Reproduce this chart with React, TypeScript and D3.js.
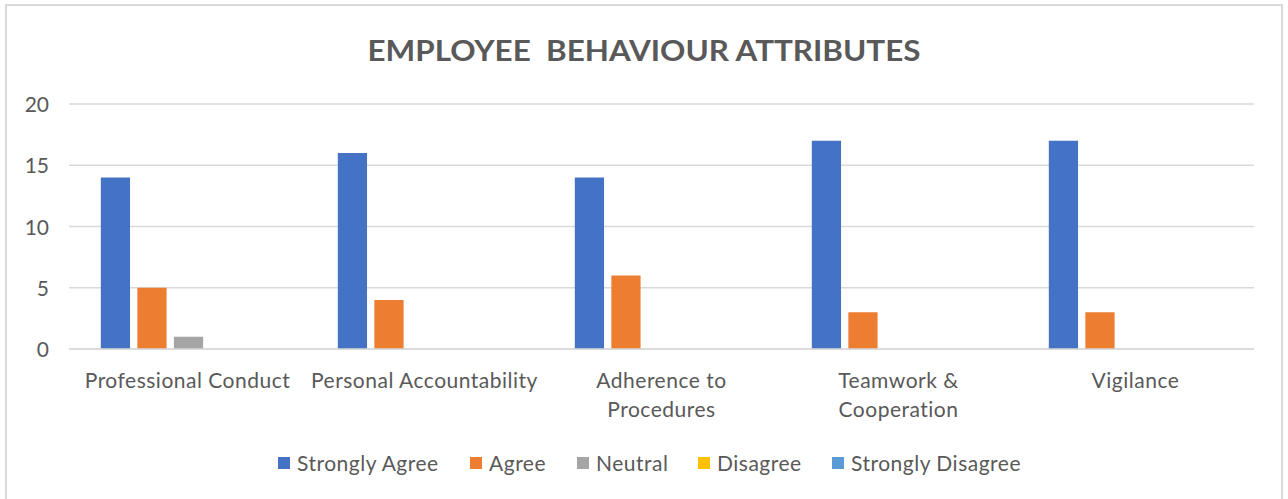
import React from "react";
import * as d3 from "d3";

const categories = [
  ["Professional Conduct"],
  ["Personal Accountability"],
  ["Adherence to", "Procedures"],
  ["Teamwork &", "Cooperation"],
  ["Vigilance"],
];
const seriesNames = ["Strongly Agree", "Agree", "Neutral", "Disagree", "Strongly Disagree"];
const stronglyAgree = [14, 16, 14, 17, 17];
const agree = [5, 4, 6, 3, 3];
const neutral = [1, 0, 0, 0, 0];
const disagree = [0, 0, 0, 0, 0];
const stronglyDisagree = [0, 0, 0, 0, 0];
const yTicks = [0, 5, 10, 15, 20];
const colors = ["#4472C4", "#ED7D31", "#A5A5A5", "#FFC000", "#5B9BD5"];

const W = 1288;
const H = 499;
const FONT = "Lato, 'Open Sans', sans-serif";
const TXT = "#595959";

export default function App() {
  const series = [stronglyAgree, agree, neutral, disagree, stronglyDisagree];
  const catKeys = categories.map((c) => c.join(" "));
  const x = d3.scaleBand<string>().domain(catKeys).range([69, 1254]).paddingInner(0).paddingOuter(0);
  const y = d3.scaleLinear().domain([0, 20]).range([349, 104]);
  const bw = x.bandwidth();
  const groupW = bw * 0.74;
  const inner = d3
    .scaleBand<string>()
    .domain(seriesNames)
    .range([(bw - groupW) / 2 + 1, (bw + groupW) / 2 + 1])
    .paddingInner(0.2)
    .paddingOuter(0);

  const legendX = [278, 470, 577, 698, 832];

  return (
    <svg width={W} height={H} style={{ position: "absolute", left: 0, top: 0 }} fontFamily={FONT}>
      <rect x={0} y={0} width={W} height={H} fill="#fff" />
      <rect x={6} y={5} width={1276} height={H + 10} fill="#fff" stroke="#d9d9d9" strokeWidth={2} />
      <text x={644} y={61} textAnchor="middle" fontSize={28} fontWeight="bold" fill={TXT} textLength={553} lengthAdjust="spacingAndGlyphs" style={{ whiteSpace: "pre" }}>
        {"EMPLOYEE  BEHAVIOUR ATTRIBUTES"}
      </text>
      {yTicks.map((t) => (
        <g key={t}>
          <line x1={69} x2={1254} y1={y(t)} y2={y(t)} stroke="#d9d9d9" strokeWidth={1.3} />
          <text x={49} y={y(t) + 8} textAnchor="end" fontSize={21} fill={TXT}>
            {t}
          </text>
        </g>
      ))}
      {catKeys.map((c, i) => (
        <g key={c} transform={`translate(${x(c)},0)`}>
          {series.map((s, j) =>
            s[i] > 0 ? (
              <rect
                key={j}
                x={inner(seriesNames[j])}
                y={y(s[i])}
                width={inner.bandwidth()}
                height={y(0) - y(s[i])}
                fill={colors[j]}
              />
            ) : null
          )}
        </g>
      ))}
      <line x1={69} x2={1254} y1={y(0)} y2={y(0)} stroke="#d9d9d9" strokeWidth={1.3} />
      {categories.map((lines, i) => (
        <text key={i} x={(x(catKeys[i]) as number) + bw / 2} textAnchor="middle" fontSize={21} letterSpacing={0.5} fill={TXT}>
          {lines.map((l, k) => (
            <tspan key={k} x={(x(catKeys[i]) as number) + bw / 2} y={388 + k * 29}>
              {l}
            </tspan>
          ))}
        </text>
      ))}
      {seriesNames.map((n, j) => (
        <g key={n}>
          <rect x={legendX[j]} y={457} width={12} height={12} fill={colors[j]} />
          <text x={legendX[j] + 19} y={471} fontSize={21} letterSpacing={0.5} fill={TXT}>
            {n}
          </text>
        </g>
      ))}
    </svg>
  );
}
